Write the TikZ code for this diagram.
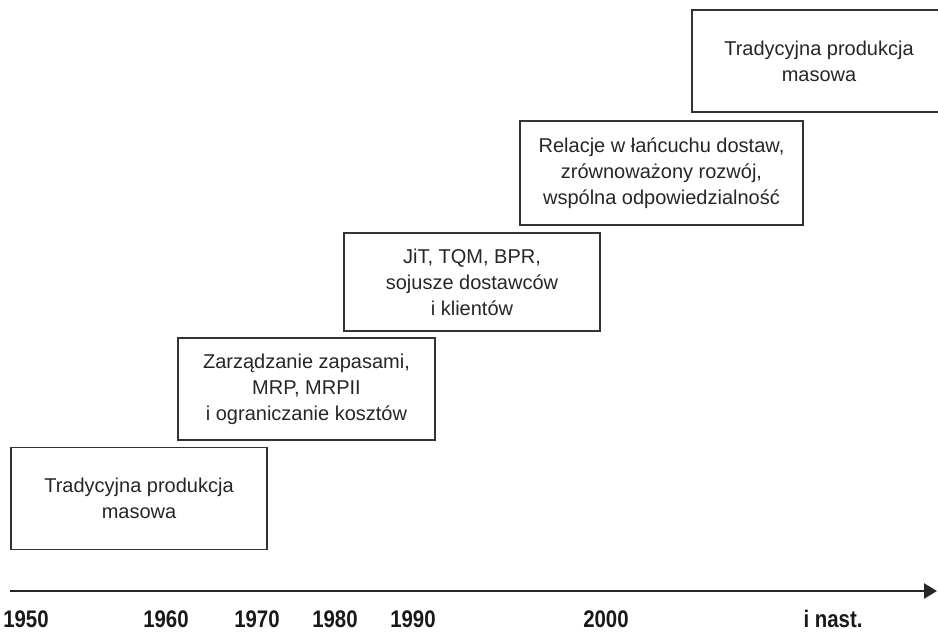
\documentclass[tikz,border=0pt]{standalone}
\usepackage{fontspec}
\setmainfont{Liberation Sans}
\usetikzlibrary{arrows.meta, positioning}
\tikzset{
  era/.style={
    rectangle, minimum height=102pt, inner sep=0pt,
    align=center, draw=black!80, line width=1.4pt, text=black!85,
    font=\fontsize{20}{26}\selectfont
  },
  year/.style={
    text=black!90, inner sep=0pt, xscale=0.85, transform shape,
    font=\fontsize{24}{24}\selectfont\bfseries
  },
  axis/.style={
    -{Triangle[length=13pt,width=15pt]}, line width=2.6pt, color=black!85
  }
}

\begin{document}
\begin{tikzpicture}[x=1pt, y=-1pt]
    \useasboundingbox (0,0) rectangle (938,632);
    \clip (0,0) rectangle (938,632);

    % Stages
    \node[era, minimum width=256pt] (tradycja) at (139,498.5)
      {Tradycyjna produkcja\\masowa};
    \node[era, minimum width=257pt] (zapasy) at (306.5,389)
      {Zarządzanie zapasami,\\MRP, MRPII\\i ograniczanie kosztów};
    \node[era, minimum width=256pt, minimum height=98pt] (jit) at (472,282)
      {JiT, TQM, BPR,\\sojusze dostawców\\i klientów};
    \node[era, minimum width=283pt, minimum height=104pt] (relacje) at (661.5,173)
      {Relacje w łańcuchu dostaw,\\zrównoważony rozwój,\\wspólna odpowiedzialność};
    \node[era, minimum width=254pt] (masowa) at (819,61)
      {Tradycyjna produkcja\\masowa};

    % Time axis
    \coordinate (start) at (10,591);
    \coordinate (end) at (937,591);
    \draw[axis] (start) -- (end);

    % Years
    \node[year] (y1950) at (26,619) {1950};
    \node[year] (y1960) at (166,619) {1960};
    \node[year] (y1970) at (257,619) {1970};
    \node[year] (y1980) at (335,619) {1980};
    \node[year] (y1990) at (413,619) {1990};
    \node[year] (y2000) at (606,619) {2000};
    \node[year] (ynast) at (833,619) {i nast.};
\end{tikzpicture}
\end{document}
